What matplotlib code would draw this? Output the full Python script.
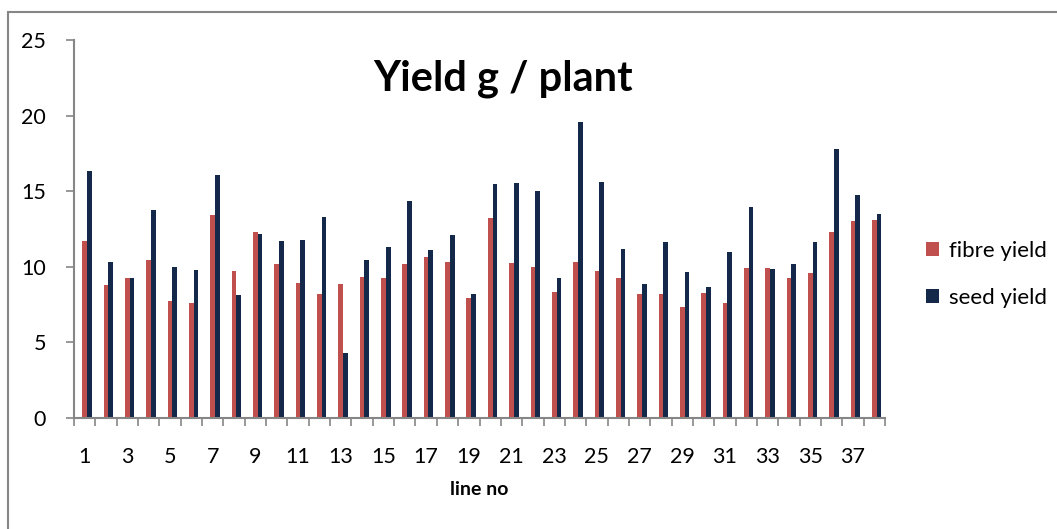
import numpy as np
import matplotlib
matplotlib.use("Agg")
from matplotlib import pyplot as plt
from matplotlib.patches import Rectangle

plt.rcParams['font.family'] = ['Lato', 'DejaVu Sans']

lines = list(range(1, 39))
fibre_yield = [11.70, 8.81, 9.23, 10.44, 7.70, 7.59, 13.42, 9.69, 12.27, 10.18,
               8.92, 8.17, 8.87, 9.32, 9.27, 10.18, 10.62, 10.31, 7.92, 13.25,
               10.24, 9.96, 8.30, 10.33, 9.71, 9.27, 8.17, 8.17, 7.35, 8.26,
               7.59, 9.93, 9.91, 9.25, 9.58, 12.30, 13.02, 13.07]
seed_yield = [16.34, 10.31, 9.25, 13.75, 9.96, 9.78, 16.07, 8.12, 12.14, 11.70,
              11.77, 13.29, 4.28, 10.44, 11.30, 14.35, 11.10, 12.08, 8.17, 15.45,
              15.52, 14.99, 9.27, 19.58, 15.61, 11.15, 8.85, 11.61, 9.62, 8.63,
              10.95, 13.97, 9.85, 10.18, 11.66, 17.77, 14.72, 13.47]

RED = "#C0504D"
NAVY = "#14284A"
AXIS = "#868686"

fig = plt.figure(figsize=(10.57, 5.29), dpi=100)
ax = fig.add_axes([0.0700, 0.2104, 0.7673, 0.7140])

x = np.arange(len(lines))
w = 0.22
shift = 0.11
ax.bar(x + shift - w / 2, fibre_yield, width=w, color=RED, label="fibre yield")
ax.bar(x + shift + w / 2, seed_yield, width=w, color=NAVY, label="seed yield")

ax.set_xlim(-0.5, len(lines) - 0.5)
ax.set_ylim(0, 25)
ax.set_yticks([0, 5, 10, 15, 20, 25])

# category ticks at boundaries, labels on every other category
ax.set_xticks(np.arange(-0.5, len(lines), 1.0))
ax.set_xticklabels([])
ax.set_xticks(x[::2], minor=True)
ax.set_xticklabels([str(v) for v in lines[::2]], minor=True)
ax.tick_params(axis='x', which='major', length=6, color=AXIS, width=1.2)
ax.tick_params(axis='x', which='minor', length=0, pad=21, labelsize=15.5)
ax.tick_params(axis='y', length=6, color=AXIS, width=1.2, pad=14, labelsize=15.5)

for s in ['top', 'right']:
    ax.spines[s].set_visible(False)
for s in ['left', 'bottom']:
    ax.spines[s].set_color(AXIS)
    ax.spines[s].set_linewidth(1.5)

ax.text(0.529, 0.897, "Yield g / plant", transform=ax.transAxes, ha='center', va='center',
        fontsize=30, fontweight='bold')
ax.set_xlabel("line no", fontsize=14, fontweight='bold', labelpad=10)

ax.legend(loc='center left', bbox_to_anchor=(1.026, 0.38), frameon=False, fontsize=16,
          handlelength=0.6, handleheight=0.6, handletextpad=0.45, labelspacing=1.2)

fig.patches.append(Rectangle((8 / 1057, -0.1), 1.2, 1.1 - 12 / 529, transform=fig.transFigure,
                             fill=False, edgecolor=AXIS, linewidth=1.5))

fig.savefig("out.png", dpi=100)
